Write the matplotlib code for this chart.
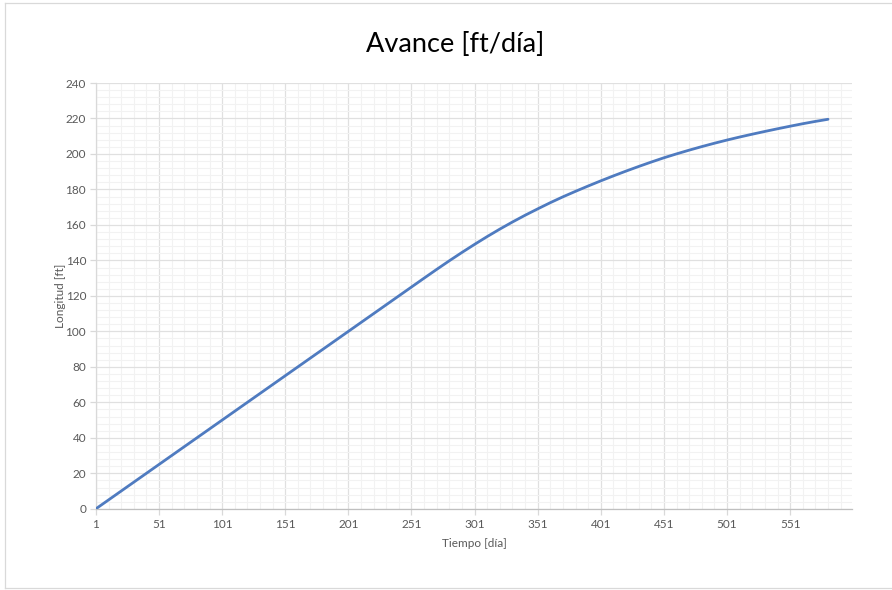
import matplotlib
matplotlib.use("Agg")
import matplotlib.pyplot as plt
from matplotlib.ticker import MultipleLocator, FixedLocator
from matplotlib.lines import Line2D

# Data
dias = [1, 11, 21, 31, 41, 51, 61, 71, 81, 91, 101, 111, 121, 131, 141, 151,
        161, 171, 181, 191, 201, 211, 221, 231, 241, 251, 261, 271, 281, 291,
        301, 311, 321, 331, 341, 351, 361, 371, 381, 391, 401, 411, 421, 431,
        441, 451, 461, 471, 481, 491, 501, 511, 521, 531, 541, 551, 561, 571, 581]
longitud = [0, 5, 10, 15, 20, 25, 30, 35, 40, 45, 50, 55, 60, 65, 70, 75,
            80, 85, 90, 95, 100, 105, 110, 115, 120, 125, 130, 134.95, 139.8, 144.5,
            149.05, 153.45, 157.65, 161.65, 165.45, 169.05, 172.55, 175.85, 178.95, 181.95,
            184.85, 187.65, 190.35, 192.95, 195.45, 197.85, 200.05, 202.15, 204.15, 206.05,
            207.85, 209.55, 211.15, 212.7, 214.2, 215.65, 217.05, 218.35, 219.55]
x_ticks = [1, 51, 101, 151, 201, 251, 301, 351, 401, 451, 501, 551]
y_ticks = [0, 20, 40, 60, 80, 100, 120, 140, 160, 180, 200, 220, 240]

title = "Avance [ft/día]"
xlabel = "Tiempo [día]"
ylabel = "Longitud [ft]"

plt.rcParams['font.family'] = ['Lato', 'DejaVu Sans']

fig = plt.figure(figsize=(8.92, 5.90), dpi=100)
W, H = 892, 590
ax = fig.add_axes([95.9 / W, 1 - 508.8 / H, (852 - 95.9) / W, (508.8 - 83) / H])

ax.plot(dias, longitud, color="#4f7bc0", lw=2.0, solid_capstyle="round", zorder=3)

ax.set_xlim(1, 600)
ax.set_ylim(0, 240)
ax.xaxis.set_major_locator(FixedLocator(x_ticks))
ax.xaxis.set_minor_locator(FixedLocator(list(range(11, 601, 10))))
ax.yaxis.set_major_locator(FixedLocator(y_ticks))
ax.yaxis.set_minor_locator(MultipleLocator(4))

ax.grid(which="major", color="#e0e0e0", lw=0.9, zorder=0)
ax.grid(which="minor", color="#f2f2f2", lw=0.8, zorder=0)
ax.set_axisbelow(True)

for s in ["top", "right"]:
    ax.spines[s].set_visible(False)
ax.spines["left"].set_color("#d9d9d9")
ax.spines["bottom"].set_color("#bfbfbf")
ax.spines["left"].set_linewidth(0.9)
ax.spines["bottom"].set_linewidth(0.9)

ax.tick_params(axis="both", which="major", labelsize=8.5, labelcolor="#595959",
               color="#d9d9d9", length=4, width=0.9)
ax.tick_params(axis="both", which="minor", length=0)
ax.tick_params(axis="x", pad=3)
ax.tick_params(axis="y", pad=3)

ax.set_xlabel(xlabel, fontsize=8.5, color="#595959", labelpad=6)
ax.set_ylabel(ylabel, fontsize=8.5, color="#595959", labelpad=0)

fig.text(455 / W, 1 - 45 / H, title, ha="center", va="center",
         fontsize=19.5, color="#000000")

# chart frame (top, left, bottom)
fc = "#d9d9d9"
fig.lines.append(Line2D([5 / W, 1.0], [1 - 2.5 / H, 1 - 2.5 / H], transform=fig.transFigure, color=fc, lw=0.9))
fig.lines.append(Line2D([5 / W, 5 / W], [1 - 2.5 / H, 1 - 588 / H], transform=fig.transFigure, color=fc, lw=0.9))
fig.lines.append(Line2D([5 / W, 1.0], [1 - 588 / H, 1 - 588 / H], transform=fig.transFigure, color=fc, lw=0.9))

fig.savefig("out.png", dpi=100, facecolor="white")
